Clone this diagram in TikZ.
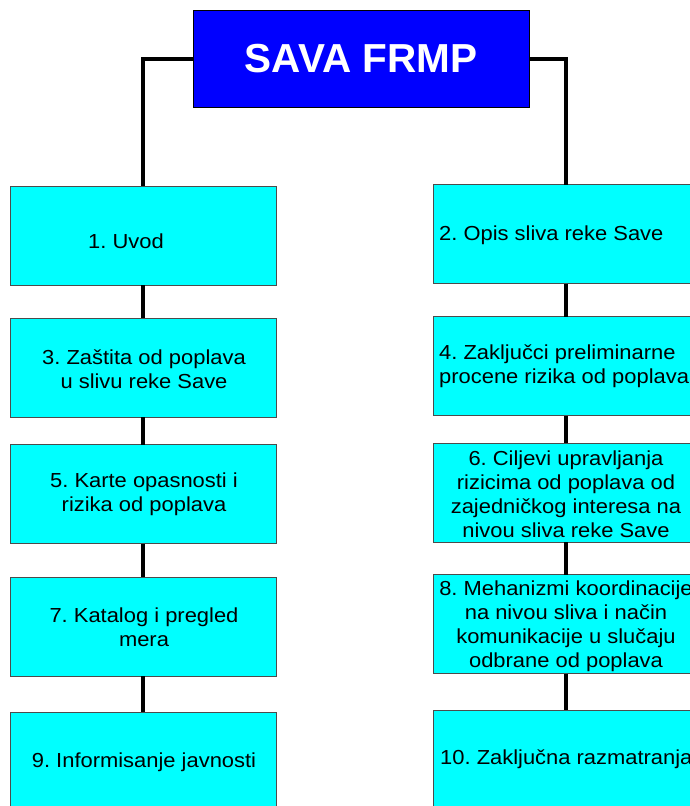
\documentclass[tikz,border=0pt]{standalone}
\usepackage{fontspec}
\setmainfont[FakeStretch=1.08]{Liberation Sans}
\newfontfamily\titlefont{Liberation Sans}
\definecolor{boxcyan}{HTML}{00FFFF}
\definecolor{titleblue}{HTML}{0000FF}
\frenchspacing
\begin{document}
\begin{tikzpicture}[x=1pt,y=-1pt,
  cbox/.style={draw=black!70, line width=0.8pt, fill=boxcyan, minimum width=266pt, minimum height=99pt, inner sep=0pt, outer sep=0pt},
  tbox/.style={draw=black, line width=0.8pt, fill=titleblue, minimum width=336pt, minimum height=97pt, inner sep=0pt, outer sep=0pt, text=white, font=\titlefont\bfseries\fontsize{40.5}{41}\selectfont},
  lbl/.style={inner sep=0pt, font=\frenchspacing\fontsize{20.3}{24}\selectfont, align=center},
  lbll/.style={inner sep=0pt, font=\frenchspacing\fontsize{20.3}{24}\selectfont, align=left, anchor=west},
  conn/.style={line width=4pt, black}]
\useasboundingbox (0,0) rectangle (690,806);
\clip (0,0) rectangle (690,806);
\fill[white] (0,0) rectangle (690,806);

% title
\node[tbox] (title) at (361,58.5) {SAVA FRMP};

% left column
\node[cbox] (b1) at (143,235.5) {};
\node[cbox] (b3) at (143,367.5) {};
\node[cbox] (b5) at (143,494) {};
\node[cbox] (b7) at (143,626.5) {};
\node[cbox] (b9) at (143,761.5) {};

% right column
\node[cbox] (b2) at (566,234) {};
\node[cbox] (b4) at (566,366) {};
\node[cbox] (b6) at (566,492.5) {};
\node[cbox] (b8) at (566,624) {};
\node[cbox] (b10) at (566,759.5) {};

% labels
\node[lbl] (t1) at (126,241) {1. Uvod};
\node[lbl] (t3) at (144,369.5) {3. Zaštita od poplava\\u slivu reke Save};
\node[lbl] (t5) at (144,494.5) {5. Karte opasnosti i\\rizika od poplava};
\node[lbl] (t7) at (144,627) {7. Katalog i pregled\\mera};
\node[lbl] (t9) at (144,762) {9. Informisanje javnosti};

\node[lbll] (t2) at (439,235.7) {2. Opis sliva reke Save};
\node[lbll] (t4) at (439,366.3) {4. Zaključci preliminarne\\procene rizika od poplava};
\node[lbl] (t6) at (566,494.5) {6. Ciljevi upravljanja\\rizicima od poplava od\\zajedničkog interesa na\\nivou sliva reke Save};
\node[lbl] (t8) at (566,625.8) {8. Mehanizmi koordinacije\\na nivou sliva i način\\komunikacije u slučaju\\odbrane od poplava};
\node[lbll] (t10) at (440,759.6) {10. Zaključna razmatranja};

% connectors
\draw[conn] (title.west) -| (b1.north);
\draw[conn] (title.east) -| (b2.north);
\draw[conn] (b1.south) -- (b3.north);
\draw[conn] (b3.south) -- (b5.north);
\draw[conn] (b5.south) -- (b7.north);
\draw[conn] (b7.south) -- (b9.north);
\draw[conn] (b2.south) -- (b4.north);
\draw[conn] (b4.south) -- (b6.north);
\draw[conn] (b6.south) -- (b8.north);
\draw[conn] (b8.south) -- (b10.north);
\end{tikzpicture}
\end{document}
